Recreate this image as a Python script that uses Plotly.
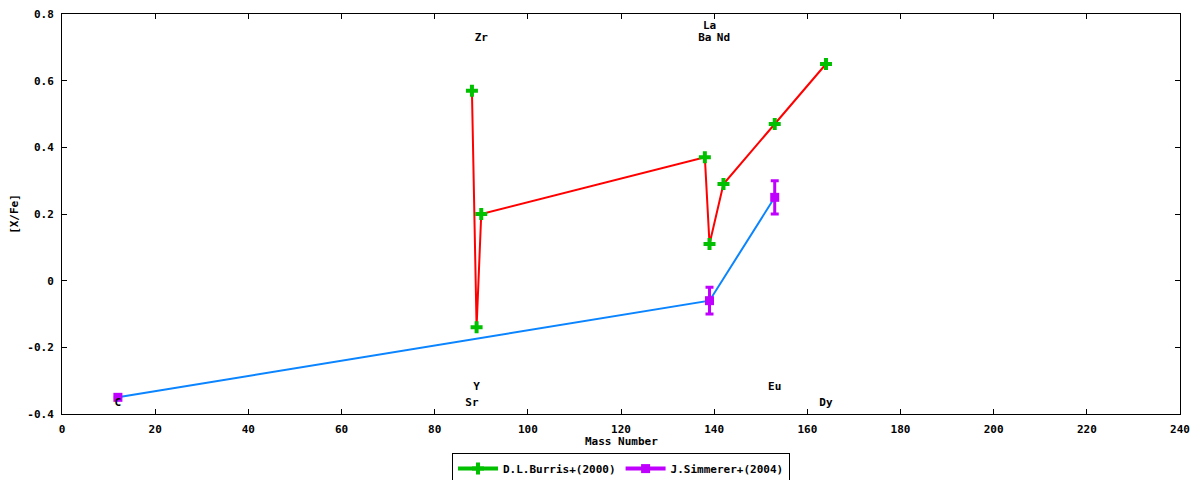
import plotly.graph_objects as go

# D.L.Burris+(2000): mass number and [X/Fe]
burris_mass = [88, 89, 90, 138, 139, 142, 153, 164]
burris_xfe = [0.57, -0.14, 0.20, 0.37, 0.11, 0.29, 0.47, 0.65]

# J.Simmerer+(2004): mass number, [X/Fe] and error
simmerer_mass = [12, 139, 153]
simmerer_xfe = [-0.35, -0.06, 0.25]
simmerer_err = [0.0, 0.04, 0.05]

# element labels
label_el = ['C', 'Sr', 'Y', 'Zr', 'Ba', 'La', 'Nd', 'Eu', 'Dy']
label_mass = [12, 88, 89, 90, 138, 139, 142, 153, 164]
label_y = [-0.367, -0.367, -0.319, 0.728, 0.728, 0.764, 0.728, -0.319, -0.367]

# axis ticks
x_ticks = [0, 20, 40, 60, 80, 100, 120, 140, 160, 180, 200, 220, 240]
y_ticks = [-0.4, -0.2, 0, 0.2, 0.4, 0.6, 0.8]
y_ticktext = ['-0.4', '-0.2', '0', '0.2', '0.4', '0.6', '0.8']

font_fam = 'DejaVu Sans Mono'
green = '#00c000'
magenta = '#c000ff'

fig = go.Figure()

# connecting lines
fig.add_trace(go.Scatter(x=burris_mass, y=burris_xfe, mode='lines',
                         line=dict(color='#ff0000', width=2),
                         showlegend=False, hoverinfo='skip'))
fig.add_trace(go.Scatter(x=simmerer_mass, y=simmerer_xfe, mode='lines',
                         line=dict(color='#0a84ff', width=2),
                         showlegend=False, hoverinfo='skip'))

# points
fig.add_trace(go.Scatter(x=burris_mass, y=burris_xfe, mode='markers',
                         marker=dict(symbol='cross', size=10, color=green),
                         showlegend=False))
fig.add_trace(go.Scatter(x=simmerer_mass, y=simmerer_xfe, mode='markers',
                         marker=dict(symbol='square', size=9, color=magenta),
                         error_y=dict(type='data', array=simmerer_err,
                                      color=magenta, thickness=3, width=4),
                         showlegend=False))

# legend entries
fig.add_trace(go.Scatter(x=[None], y=[None], mode='lines+markers',
                         name='D.L.Burris+(2000)',
                         line=dict(color=green, width=4),
                         marker=dict(symbol='cross', size=10, color=green)))
fig.add_trace(go.Scatter(x=[None], y=[None], mode='lines+markers',
                         name='J.Simmerer+(2004)',
                         line=dict(color=magenta, width=4),
                         marker=dict(symbol='square', size=9, color=magenta)))

# element labels
fig.add_trace(go.Scatter(x=label_mass, y=label_y, mode='text', text=label_el,
                         textposition='middle center',
                         textfont=dict(family=font_fam, size=11, color='#000', weight='bold'),
                         showlegend=False, hoverinfo='skip'))

axis_common = dict(showline=True, mirror='ticks', linecolor='#000', linewidth=1,
                   ticks='inside', ticklen=5, tickcolor='#000', showgrid=False,
                   zeroline=False, automargin=False, ticklabeloverflow='allow',
                   ticklabelstandoff=5,
                   tickfont=dict(family=font_fam, size=11, color='#000', weight='bold'))

# page body adds an 8px margin, so the figure is shrunk by that much
fig.update_layout(
    width=1192, height=472,
    plot_bgcolor='#fff', paper_bgcolor='#fff',
    margin=dict(l=54, r=20, t=6, b=66, autoexpand=False),
    font=dict(family=font_fam, size=11, color='#000', weight='bold'),
    xaxis=dict(range=[0, 240], tickvals=x_ticks, **axis_common),
    yaxis=dict(range=[-0.4, 0.8], tickvals=y_ticks, ticktext=y_ticktext,
               title=dict(text='[X/Fe]', standoff=8,
                          font=dict(family=font_fam, size=11, weight='bold')),
               **axis_common),
    legend=dict(orientation='h', x=0.5, xanchor='center',
                yref='container', y=0.057, yanchor='top',
                bordercolor='#000', borderwidth=1, bgcolor='#fff',
                font=dict(family=font_fam, size=11, weight='bold'),
                itemwidth=40, tracegroupgap=0),
)

# x axis title placed by hand (standoff is ignored without automargin)
fig.add_annotation(text='Mass Number', xref='paper', yref='paper',
                   x=0.5, y=-0.068, xanchor='center', yanchor='middle',
                   showarrow=False,
                   font=dict(family=font_fam, size=11, color='#000', weight='bold'))

fig.write_html('out.html')
